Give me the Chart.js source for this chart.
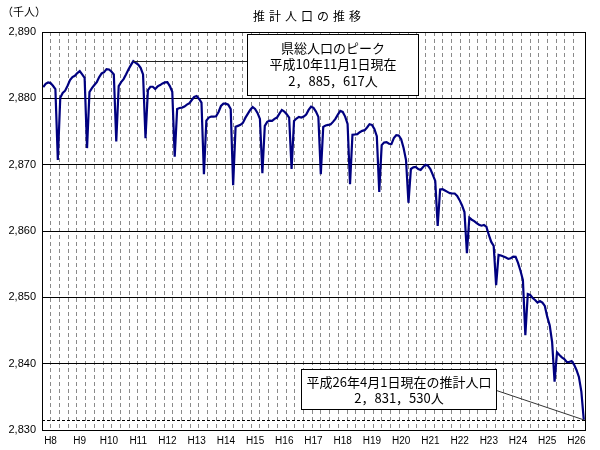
<!DOCTYPE html>
<html>
<head>
<meta charset="utf-8">
<title>推計人口の推移</title>
<script src="https://cdn.jsdelivr.net/npm/chart.js@4/dist/chart.umd.min.js"></script>
<style>
  body { margin: 0; background: #fff; }
  #wrap { width: 600px; height: 450px; position: relative; }
</style>
</head>
<body>
<div id="wrap"><canvas id="popChart"></canvas></div>
<script>
// monthly estimated population (thousand persons), H7.10 .. H26.4
// every April 1 value shows the spring dip
const population = [
  2881.7, 2882.2, 2882.4, 2882.3, 2881.9, 2881.4,                                   // H7.10 - H8.3
  2870.7, 2880.1, 2880.8, 2881.15, 2881.9, 2882.75, 2883.2, 2883.4, 2883.8, 2884.1, 2883.6, 2883.1,   // H8
  2872.5, 2880.95, 2881.55, 2882.0, 2882.45, 2883.2, 2883.75, 2883.95, 2884.4, 2884.35, 2884.05, 2883.6, // H9
  2873.5, 2881.85, 2882.45, 2882.9, 2883.6, 2884.35, 2885.0, 2885.617, 2885.35, 2885.1, 2884.6, 2883.6, // H10
  2874.0, 2881.25, 2881.75, 2881.75, 2881.4, 2881.8, 2882.0, 2882.25, 2882.4, 2882.45, 2881.85, 2881.0, // H11
  2871.2, 2878.4, 2878.55, 2878.6, 2878.75, 2879.05, 2879.25, 2879.75, 2880.2, 2880.35, 2879.9, 2879.35, // H12
  2868.55, 2876.65, 2877.1, 2877.25, 2877.25, 2877.3, 2877.95, 2878.85, 2879.2, 2879.2, 2879.05, 2878.4, // H13
  2866.9, 2875.7, 2875.85, 2876.0, 2876.3, 2877.05, 2877.65, 2878.25, 2878.7, 2878.4, 2877.8, 2876.9,   // H14
  2868.7, 2875.85, 2876.45, 2876.65, 2876.6, 2876.9, 2877.1, 2877.7, 2878.25, 2878.0, 2877.6, 2877.1,   // H15
  2869.35, 2876.6, 2876.95, 2877.2, 2877.1, 2877.25, 2877.55, 2878.25, 2878.75, 2878.55, 2878.0, 2877.2, // H16
  2868.55, 2875.7, 2875.9, 2876.0, 2876.05, 2876.45, 2876.9, 2877.55, 2878.1, 2877.95, 2877.25, 2876.15, // H17
  2867.05, 2874.5, 2874.55, 2874.6, 2874.9, 2875.1, 2875.2, 2875.6, 2876.1, 2876.0, 2875.4, 2874.3,     // H18
  2865.9, 2872.95, 2873.35, 2873.4, 2873.15, 2873.1, 2874.0, 2874.45, 2874.4, 2873.85, 2872.5, 2870.7,  // H19
  2864.25, 2869.35, 2869.6, 2869.65, 2869.35, 2869.2, 2869.65, 2870.0, 2869.85, 2869.35, 2868.45, 2867.55, // H20
  2860.75, 2866.25, 2866.3, 2866.1, 2865.9, 2865.7, 2865.65, 2865.65, 2865.3, 2864.65, 2863.85, 2862.85, // H21
  2856.65, 2862.0, 2861.7, 2861.5, 2861.2, 2860.95, 2860.8, 2860.9, 2860.65, 2859.4, 2858.35, 2857.75,  // H22
  2851.85, 2856.4, 2856.3, 2856.15, 2856.0, 2855.8, 2855.9, 2856.15, 2856.1, 2855.2, 2854.0, 2852.6,    // H23
  2844.3, 2850.5, 2850.35, 2849.9, 2849.6, 2849.2, 2849.45, 2849.2, 2848.7, 2847.05, 2845.8, 2843.25,   // H24
  2837.3, 2841.7, 2841.3, 2840.95, 2840.7, 2840.25, 2840.25, 2840.4, 2839.85, 2839.05, 2838.0, 2835.8,  // H25
  2831.53                                                                            // H26.4
];

const yearLabels = ['H8', 'H9', 'H10', 'H11', 'H12', 'H13', 'H14', 'H15', 'H16', 'H17',
                    'H18', 'H19', 'H20', 'H21', 'H22', 'H23', 'H24', 'H25', 'H26'];
const firstJanIndex = 3;     // H8.1 is the 4th month of the series
const yMin = 2830, yMax = 2890, yStep = 10;

const peakIndex = 37;        // H10.11.1
const peakValue = 2885.617;
const latestValue = 2831.530;
const peakText = ['県総人口のピーク', '平成10年11月1日現在', '2，885，617人'];
const latestText = ['平成26年4月1日現在の推計人口', '2，831，530人'];
const chartTitle = '推計人口の推移';
const unitText = '（千人）';

const jpFont = '"Noto Sans CJK JP", sans-serif';

// title, unit, callouts and the dashed line for the latest value
const notesPlugin = {
    id: 'notes',
    beforeDatasetsDraw(chart) {
        const { ctx, chartArea, scales } = chart;
        const y = Math.round(scales.y.getPixelForValue(latestValue)) + 0.5;
        ctx.save();
        ctx.strokeStyle = '#000';
        ctx.lineWidth = 1;
        ctx.setLineDash([3, 2]);
        ctx.beginPath();
        ctx.moveTo(chartArea.left, y);
        ctx.lineTo(chartArea.right, y);
        ctx.stroke();
        ctx.restore();
    },
    afterDraw(chart) {
        const { ctx, chartArea, scales } = chart;
        ctx.save();

        // frame round the plot
        ctx.strokeStyle = '#000';
        ctx.lineWidth = 1;
        ctx.strokeRect(Math.round(chartArea.left) + 0.5, Math.round(chartArea.top) + 0.5,
                       Math.round(chartArea.right - chartArea.left), Math.round(chartArea.bottom - chartArea.top));

        // title and unit
        ctx.fillStyle = '#000';
        ctx.textBaseline = 'middle';
        ctx.font = '12px ' + jpFont;
        ctx.letterSpacing = '4px';
        ctx.textAlign = 'center';
        ctx.fillText(chartTitle, 309, 16);
        ctx.letterSpacing = '0px';
        ctx.font = '11px ' + jpFont;
        ctx.textAlign = 'left';
        ctx.fillText(unitText, 2, 12);

        // peak callout
        const px = scales.x.getPixelForValue(peakIndex);
        const py = Math.round(scales.y.getPixelForValue(peakValue)) + 0.5;
        const b1 = { x: 247.5, y: 34.5, w: 171, h: 61 };
        ctx.strokeStyle = '#222';
        ctx.beginPath();
        ctx.moveTo(px, py);
        ctx.lineTo(b1.x, py);
        ctx.stroke();
        ctx.fillStyle = '#fff';
        ctx.fillRect(b1.x, b1.y, b1.w, b1.h);
        ctx.strokeStyle = '#000';
        ctx.strokeRect(b1.x, b1.y, b1.w, b1.h);
        ctx.fillStyle = '#000';
        ctx.font = '13px ' + jpFont;
        ctx.textAlign = 'center';
        peakText.forEach((t, k) => ctx.fillText(t, b1.x + b1.w / 2, 48 + k * 16.5));

        // latest value callout
        const lx = scales.x.getPixelForValue(population.length - 1);
        const ly = scales.y.getPixelForValue(latestValue);
        const b2 = { x: 301.5, y: 369.5, w: 195, h: 40 };
        ctx.strokeStyle = '#333';
        ctx.beginPath();
        ctx.moveTo(b2.x + b2.w, b2.y + 21);
        ctx.lineTo(lx, ly);
        ctx.stroke();
        ctx.fillStyle = '#fff';
        ctx.fillRect(b2.x, b2.y, b2.w, b2.h);
        ctx.strokeStyle = '#000';
        ctx.strokeRect(b2.x, b2.y, b2.w, b2.h);
        ctx.fillStyle = '#000';
        latestText.forEach((t, k) => ctx.fillText(t, b2.x + b2.w / 2, 382 + k * 16.5));

        ctx.restore();
    }
};

const ctx = document.getElementById('popChart').getContext('2d');

new Chart(ctx, {
    type: 'line',
    data: {
        datasets: [{
            label: '推計人口',
            data: population.map((v, i) => ({ x: i, y: v })),
            borderColor: '#000080',
            borderWidth: 2.2,
            pointRadius: 0,
            tension: 0,
            fill: false
        }]
    },
    options: {
        responsive: true,
        maintainAspectRatio: false,
        animation: false,
        layout: { padding: { top: 32, right: 15, left: 0, bottom: 0 } },
        plugins: {
            legend: { display: false },
            title: { display: false },
            tooltip: { enabled: false }
        },
        scales: {
            x: {
                type: 'linear',
                min: -0.5,
                max: population.length - 0.5,
                grid: { display: false, drawTicks: false },
                border: { display: false },
                afterBuildTicks: axis => {
                    axis.ticks = yearLabels.map((_, k) => ({ value: firstJanIndex + 12 * k }));
                },
                afterFit: axis => { axis.height = 20; },
                ticks: {
                    autoSkip: false,
                    maxRotation: 0,
                    padding: 5,
                    color: '#000',
                    font: { family: '"Liberation Sans", Arial, sans-serif', size: 10 },
                    callback: v => yearLabels[Math.round((v - firstJanIndex) / 12)]
                }
            },
            xg: {
                type: 'linear',
                position: 'top',
                min: 0,
                max: 62.3,
                ticks: { display: false, stepSize: 1 },
                grid: { color: '#8a8a8a', lineWidth: 1, drawTicks: false },
                border: { display: false, dash: [4, 3] },
                afterFit: axis => { axis.height = 0; }
            },
            y: {
                min: yMin,
                max: yMax,
                afterFit: axis => { axis.width = 42; },
                ticks: {
                    stepSize: yStep,
                    padding: 6,
                    color: '#000',
                    font: { family: '"Liberation Sans", Arial, sans-serif', size: 11 },
                    callback: v => v.toLocaleString('en-US')
                },
                grid: { color: '#000', lineWidth: 1, drawTicks: false },
                border: { color: '#000' }
            }
        }
    },
    plugins: [notesPlugin]
});
</script>
</body>
</html>
